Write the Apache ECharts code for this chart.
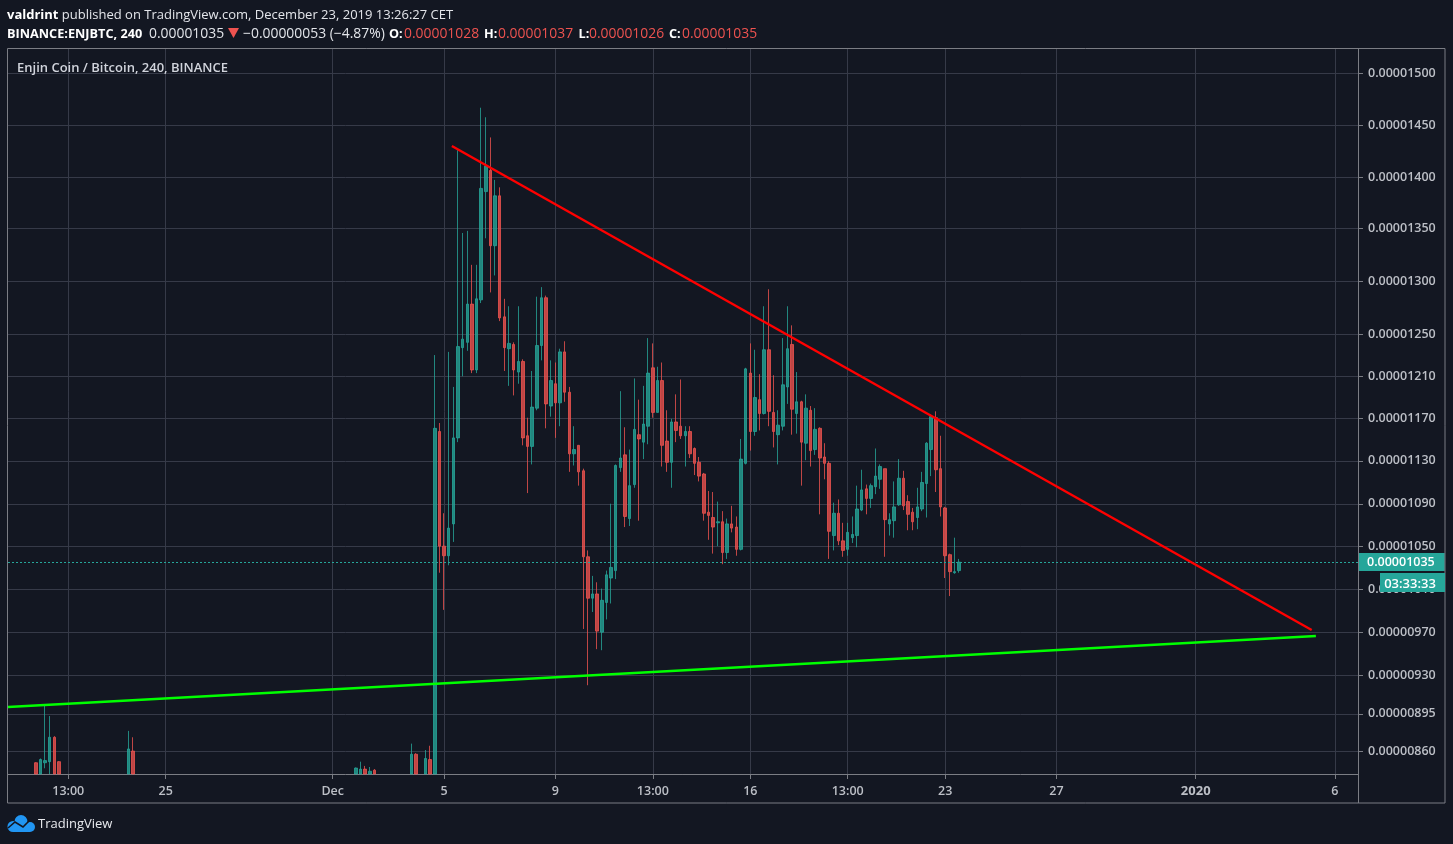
<!DOCTYPE html>
<html><head><meta charset="utf-8">
<style>html,body{margin:0;padding:0;background:#131722;overflow:hidden}#c{width:1453px;height:844px}</style>
<script src="https://cdn.jsdelivr.net/npm/echarts@6/dist/echarts.min.js"></script>
</head><body><div id="c"></div>
<script>
// Prices are in units of 0.00000001 BTC.
// Parts of candles below the visible range are cut at the axis floor (837.4).
const HOUR = 36e5, DAY = 24 * HOUR, BAR = 4 * HOUR;
const dec5 = Date.UTC(2019, 11, 5);

// Continuous run of 4h candles, first one is Dec 4 16:00 UTC
const opens = [
 837.4,1160,1052,1043,1073,1154,1239,1244,1280,1218,
 1284,1386,1406,1335,1382,1268,1238,1242,1216,1226,
 1156,1146,1182,1241,1286,1184,1205,1187,1235,1197,
 1139,1147,1123,1042,1003,1007,971,999,1022,1029,
 1126,1138,1078,1110,1157,1150,1165,1220,1178,1208,
 1151,1131,1169,1165,1156,1160,1144,1131,1120,1084,
 1079,1074,1075,1046,1073,1070,1049,1130,1215,1160,
 1190,1177,1237,1178,1157,1165,1202,1242,1177,1188,
 1149,1180,1143,1163,1136,1130,1062,1083,1057,1049,
 1060,1062,1086,1106,1097,1108,1115,1125,1073,1076,
 1091,1116,1094,1084,1079,1087,1111,1143,1173,1125,
 1088,1044,1027,1029];
const closes = [
 1163,1052,1043,1069,1154,1240,1247,1280,1218,1285,
 1389,1410,1335,1382,1267,1239,1243,1218,1226,1154,
 1146,1183,1241,1286,1186,1208,1187,1235,1197,1139,
 1143,1122,1042,1003,1007,972,1001,1025,1032,1128,
 1135,1080,1109,1162,1153,1167,1215,1178,1208,1147,
 1131,1169,1161,1156,1160,1139,1130,1118,1083,1081,
 1070,1075,1046,1073,1069,1049,1134,1219,1160,1192,
 1177,1237,1179,1160,1166,1204,1238,1181,1188,1150,
 1182,1142,1162,1135,1130,1066,1083,1057,1048,1065,
 1063,1087,1105,1097,1109,1118,1127,1077,1077,1089,
 1116,1090,1082,1075,1089,1112,1149,1174,1124,1089,
 1043,1028,1028,1037];
const lows = [
 837.4,1027,992,1034,1056,1150,1212,1236,1215,1215,
 1281,1342,1291,1307,1264,1217,1203,1194,1205,1147,
 1102,1129,1180,1227,1163,1174,1154,1165,1188,1122,
 1128,1109,974,921,990,955,954,983,998,1021,
 1122,1070,1071,1107,1076,1134,1148,1173,1178,1127,
 1122,1107,1150,1153,1127,1135,1119,1113,1076,1058,
 1045,1052,1035,1040,1065,1043,1048,1129,1142,1156,
 1161,1176,1165,1145,1129,1161,1186,1157,1158,1109,
 1133,1127,1138,1082,1115,1040,1048,1053,1042,1043,
 1055,1051,1085,1082,1088,1101,1106,1042,1062,1060,
 1090,1086,1067,1067,1068,1085,1079,1118,1103,1080,
 1022,1005,1026,1027];
const highs = [
 1232,1168,1083,1235,1202,1425,1347,1349,1317,1317,
 1465,1456,1437,1397,1390,1285,1278,1244,1278,1228,
 1173,1217,1287,1296,1288,1227,1225,1238,1245,1202,
 1165,1147,1125,1048,1024,1018,1012,1029,1092,1129,
 1198,1164,1143,1210,1190,1203,1248,1243,1221,1225,
 1180,1172,1195,1209,1165,1165,1145,1136,1121,1104,
 1103,1094,1085,1078,1090,1080,1153,1220,1243,1237,
 1214,1278,1294,1213,1180,1248,1278,1260,1216,1189,
 1195,1184,1182,1164,1149,1132,1093,1096,1074,1074,
 1080,1109,1124,1110,1111,1144,1129,1125,1083,1113,
 1134,1123,1100,1088,1107,1122,1150,1176,1179,1156,
 1089,1045,1060,1040];
const firstBarOffset = -2;

// Earlier candles that only just reach above the axis: [bars from Dec 5, open, close, low, high]
const earlyBars = [
 [-88,848,837.4,837.4,848.5],[-87,837.4,851,837.4,852],[-86,848,850,842.8,902],[-85,849,872,837.4,892],
 [-84,872,837.4,837.4,873],[-83,849,837.4,837.4,849.5],[-68,837.4,861,837.4,878],[-67,859,837.4,837.4,872],
 [-19,837.4,843,837.4,843.5],[-18,837.4,842,837.4,849],[-17,842,837.4,837.4,845],[-16,837.4,840,837.4,844],
 [-15,841,837.4,837.4,842],[-7,837.4,856,837.4,866],[-6,856,837.4,837.4,857],[-4,837.4,852,837.4,860],[-3,851,837.4,837.4,864]];

// Value-axis ticks: position on the axis, and the label printed there
const yTickValues = [1497.2,1448.4,1399.7,1351,1301.5,1251.5,1212.3,1172.7,1132.4,1091.9,1051.8,1011.3,970.8,930.3,894.1,858.7];
const yTickLabels = ['0.00001500','0.00001450','0.00001400','0.00001350','0.00001300','0.00001250','0.00001210','0.00001170','0.00001130','0.00001090','0.00001050','0.00001010','0.00000970','0.00000930','0.00000895','0.00000860'];
const yMin = 837.4, yMax = 1520.3;

const xTickTimes = [Date.UTC(2019,10,21,12),Date.UTC(2019,10,25),Date.UTC(2019,11,1),dec5,Date.UTC(2019,11,9),Date.UTC(2019,11,12,12),Date.UTC(2019,11,16),Date.UTC(2019,11,19,12),Date.UTC(2019,11,23),Date.UTC(2019,11,27),Date.UTC(2020,0,1),Date.UTC(2020,0,6)];
const xTickLabels = ['13:00','25','Dec','5','9','13:00','16','13:00','23','27','{b|2020}','6'];
const xMin = Date.UTC(2019,10,25) - 5.664 * DAY, xMax = Date.UTC(2019,10,25) + 42.83 * DAY;

// Trend lines: [time, price]
const redLine = [[dec5 + 6.72 * HOUR, 1429], [dec5 + 748 * HOUR, 973]];
const greenLine = [[dec5 - 376 * HOUR, 900.5], [dec5 + 751.6 * HOUR, 967.4]];
const lastPrice = closes[closes.length - 1];

const UP = '#26a69a', DOWN = '#ef5350';
const candles = earlyBars.map(b => [dec5 + b[0] * BAR, b[1], b[2], b[3], b[4]]);
opens.forEach((o, i) => candles.push([dec5 + (i + firstBarOffset) * BAR, o, closes[i], lows[i], highs[i]]));

const yLabelMap = new Map(yTickValues.map((v, i) => [v, yTickLabels[i]]));
const xLabelMap = new Map(xTickTimes.map((v, i) => [v, xTickLabels[i]]));
const FONT = '"Open Sans", "Noto Sans", sans-serif';
const GRID = '#363a48', FRAME = '#7b7d84', TXT = '#bcbfc6';
const hdr = (x, y, text, font, fill) => ({type: 'text', silent: true, z: 31, x, y, style: {text, fill, font: font + ' ' + FONT, verticalAlign: 'middle'}});
const circ = (cx, cy, r) => ({type: 'circle', silent: true, z: 31, shape: {cx, cy, r}, style: {fill: '#2196f3'}});

const chart = echarts.init(document.getElementById('c'), null, {renderer: 'canvas'});
chart.setOption({
  animation: false,
  backgroundColor: '#131722',
  grid: {left: 8, right: 95, top: 49, bottom: 70, containLabel: false},
  xAxis: {
    type: 'value', min: xMin, max: xMax,
    axisLine: {show: true, onZero: false, lineStyle: {color: FRAME, width: 1}},
    axisTick: {show: true, length: 5, customValues: xTickTimes, lineStyle: {color: FRAME}},
    splitLine: {show: true, lineStyle: {color: GRID, width: 1}},
    axisLabel: {
      customValues: xTickTimes, margin: 11, color: TXT, fontFamily: FONT, fontSize: 12.5, fontWeight: 600, hideOverlap: false,
      formatter: v => xLabelMap.get(v) || '',
      rich: {b: {fontFamily: FONT, fontSize: 13, fontWeight: 700, color: TXT}}
    }
  },
  yAxis: {
    type: 'value', position: 'right', min: yMin, max: yMax, scale: true,
    axisLine: {show: true, onZero: false, lineStyle: {color: FRAME, width: 1}},
    axisTick: {show: true, length: 5, customValues: yTickValues, lineStyle: {color: FRAME}},
    splitLine: {show: true, lineStyle: {color: GRID, width: 1}},
    axisLabel: {
      customValues: yTickValues, margin: 10, color: TXT, fontFamily: FONT, fontSize: 12.5, fontWeight: 600, hideOverlap: false,
      padding: [4, 0, 0, 0],
      formatter: v => yLabelMap.get(v) || ''
    }
  },
  series: [
    {
      type: 'candlestick', clip: true, barWidth: 3,
      encode: {x: 0, y: [1, 2, 3, 4]},
      itemStyle: {color: UP, color0: DOWN, borderColor: UP, borderColor0: DOWN, borderWidth: 1, opacity: 0.78},
      data: candles, z: 3,
      markLine: {
        silent: true, symbol: 'none', animation: false,
        lineStyle: {color: UP, type: [2, 2], width: 1},
        label: {show: true, position: 'end', distance: 0, formatter: '0.00001035', color: '#fff', fontFamily: FONT, fontSize: 12.5, fontWeight: 600, backgroundColor: UP, padding: [3, 10, 2, 9]},
        data: [{yAxis: lastPrice}]
      }
    },
    {type: 'line', data: redLine, symbol: 'none', z: 5, lineStyle: {color: '#ff0000', width: 2.4}, silent: true},
    {type: 'line', data: greenLine, symbol: 'none', z: 5, lineStyle: {color: '#00ff00', width: 2.4}, silent: true}
  ],
  graphic: {elements: [
    {type: 'rect', silent: true, z: 20, shape: {x: 7.5, y: 48.5, width: 1437.5, height: 754.5}, style: {fill: 'none', stroke: FRAME, lineWidth: 1}},
    {type: 'line', silent: true, z: 20, shape: {x1: 1358.5, y1: 49, x2: 1358.5, y2: 803}, style: {stroke: FRAME, lineWidth: 1}},
    {type: 'rect', silent: true, z: 30, shape: {x: 1380, y: 573, width: 65, height: 19}, style: {fill: UP}},
    {type: 'text', silent: true, z: 31, x: 1410, y: 584, style: {text: '03:33:33', fill: '#fff', font: '600 13px ' + FONT, align: 'center', verticalAlign: 'middle'}},
    {type: 'text', silent: true, z: 31, x: 7, y: 15, style: {
      text: '{b|valdrint} {n|published on TradingView.com, December 23, 2019 13:26:27 CET}',
      verticalAlign: 'middle',
      rich: {b: {font: '700 13px ' + FONT, fill: '#fff'}, n: {font: '400 13px ' + FONT, fill: '#e3e5ea'}}
    }},
    hdr(7, 34, 'BINANCE:ENJBTC, 240', '700 12.7px', '#fff'),
    hdr(149, 34, '0.00001035', '400 13.9px', '#e3e5ea'),
    {type: 'polygon', silent: true, z: 31, shape: {points: [[228, 28], [239, 28], [233.5, 38]]}, style: {fill: '#ef5350'}},
    hdr(243, 34, '−0.00000053 (−4.87%)', '400 13.9px', '#e3e5ea'),
    hdr(389, 34, 'O:', '700 12.7px', '#fff'), hdr(404, 34, '0.00001028', '400 13.9px', '#ef5350'),
    hdr(484, 34, 'H:', '700 12.7px', '#fff'), hdr(498, 34, '0.00001037', '400 13.9px', '#ef5350'),
    hdr(578.5, 34, 'L:', '700 12.7px', '#fff'), hdr(589, 34, '0.00001026', '400 13.9px', '#ef5350'),
    hdr(669, 34, 'C:', '700 12.7px', '#fff'), hdr(682, 34, '0.00001035', '400 13.9px', '#ef5350'),
    hdr(17, 68, 'Enjin Coin / Bitcoin, 240, BINANCE', '600 13px', '#d1d4dc'),
    circ(13, 826.5, 5.5), circ(21, 821.5, 6.5), circ(30, 827, 5),
    {type: 'rect', silent: true, z: 31, shape: {x: 13, y: 824, width: 17, height: 8}, style: {fill: '#2196f3'}},
    {type: 'polyline', silent: true, z: 32, shape: {points: [[8, 828], [15, 822], [23, 827], [30, 820]]}, style: {stroke: '#131722', fill: 'none', lineWidth: 1.6}},
    hdr(38, 824, 'TradingView', '400 13px', '#e8eaee')
  ]}
});
</script></body></html>
